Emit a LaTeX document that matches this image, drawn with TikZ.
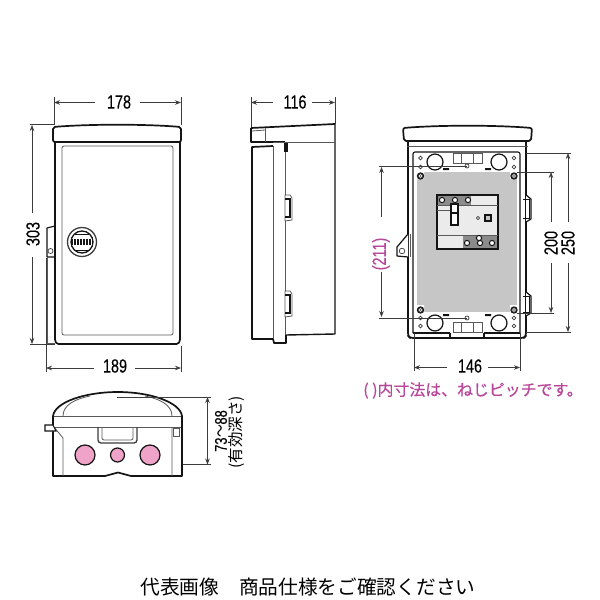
\documentclass[tikz,border=0pt]{standalone}
\usepackage{fontspec}
\setmainfont[FakeBold=0.25]{Liberation Sans}
\newfontfamily\cjk{Noto Sans CJK JP}
\newfontfamily\cjkm[FakeBold=0.4]{Noto Sans CJK JP}
\usetikzlibrary{arrows.meta}
\definecolor{inkc}{HTML}{141414}
\definecolor{dimc}{HTML}{3C3C3C}
\definecolor{pinkc}{HTML}{EFA3C8}
\definecolor{magc}{HTML}{B8469A}
\definecolor{plate}{HTML}{C6C6C6}
\tikzset{
 heavy/.style={draw=inkc,line width=1.7pt,line join=round},
 thin line/.style={draw=dimc!85,line width=.8pt},
 mid/.style={draw=inkc,line width=1.1pt},
 dimend/.style={draw=dimc,line width=.7pt,-{Stealth[length=6pt,width=4.5pt]}},
 extline/.style={draw=dimc,line width=.7pt},
 dimtext/.style={inner sep=0pt,text=black,font=\fontsize{19}{19}\selectfont},
 hole/.style={draw=dimc,line width=.7pt,fill=white},
 screw/.style={draw=inkc,line width=.9pt,fill=dimc},
 term/.style={draw=inkc,line width=1pt,fill=white},
 knock/.style={draw=inkc,line width=1.2pt,fill=pinkc},
}
\newcommand{\dimlab}[1]{\scalebox{.76}[1]{#1}}
\begin{document}
\begin{tikzpicture}[x=1pt,y=-1pt]
\useasboundingbox (0,0) rectangle (600,600);
\fill[white] (0,0) rectangle (600,600);
% ---------- front view
\draw[heavy,rounded corners=1.5pt] (55,142) -- (55,341) -- (57,344) -- (178,344) -- (180,341) -- (180,142);
\draw[heavy,rounded corners=2pt] (53,142) -- (53,127) .. controls (90,124) and (145,124) .. (181,127) -- (181,142) -- cycle;
\draw[thin line,rounded corners=2pt] (62,146) rectangle (173,335);
\draw[heavy,line width=1.2pt] (55,226) -- (47,228) -- (47,257) -- (55,257);
\draw[thin line] (47,257) -- (47,343) -- (55,343);
\draw[hole] (50.5,251) circle (2.5);
\draw[draw=dimc,line width=1.3pt,fill=white] (82,242) circle (14.5);
\draw[draw=inkc,line width=1.3pt,fill=white] (82,242) circle (11);
\fill[inkc] (71,239) rectangle (93,245);
\draw[inkc,line width=.6pt] (75,234) -- (89,234) (75,250) -- (89,250);
\foreach \i in {0,...,6}{\draw[white,line width=.5pt] (73+\i*3,239) -- (73+\i*3,245);}
% front dims
\draw[extline] (54,97) -- (54,125) (181,97) -- (181,125) (30,124.500) -- (54,124.500) (30,344) -- (55,344) (46,258) -- (46,372) (181,346) -- (181,372);
\node[dimtext] (d178) at (119,102) {\dimlab{178}};
\coordinate (a178l) at (54,102.500); \coordinate (a178r) at (181,102.500);
\draw[dimend] (95,102.500) -- (a178l);
\draw[dimend] (140,102.500) -- (a178r);
\node[dimtext,rotate=90] (d303) at (33,234) {\dimlab{303}};
\coordinate (a303t) at (32,125); \coordinate (a303b) at (32,344);
\draw[dimend] (32,213) -- (a303t);
\draw[dimend] (32,257) -- (a303b);
\node[dimtext] (d189) at (115,366) {\dimlab{189}};
\coordinate (a189l) at (46,368); \coordinate (a189r) at (181,368);
\draw[dimend] (94,368) -- (a189l);
\draw[dimend] (135,368) -- (a189r);
% ---------- side view
\draw[heavy] (273,146) -- (252,147) -- (252,339) -- (273,339);
\draw[thin line] (273,146) -- (273,339);
\draw[heavy] (273,142) -- (285,142);
\draw[thin line] (285,142) -- (285,343);
\draw[heavy] (273,339) -- (274,343) -- (286,343) -- (286,335);
\fill[inkc] (284,142) rectangle (288,152);
\draw[heavy,line width=1.4pt] (286,335) -- (335,334) -- (335,124);
\draw[heavy] (251,128) -- (335,124);
\draw[heavy] (251,128) -- (251,142) -- (273,142);
\draw[thin line] (273,142) -- (335,142);
\draw[thin line] (265,128) -- (265,142);
\draw[thin line] (252,131) -- (265,130);
\foreach \yy in {195,291}{
 \draw[thin line,fill=white] (285,\yy) -- (290,\yy) -- (292,\yy+3) -- (292,\yy+25) -- (285,\yy+26) -- cycle;
 \draw[mid] (285,\yy+4) -- (290,\yy+4) -- (290,\yy+22) -- (285,\yy+22);
}
\draw[extline] (251,97) -- (251,127) (335,97) -- (335,124);
\node[dimtext] (d116) at (295,102) {\dimlab{116}};
\coordinate (a116l) at (251,102.500); \coordinate (a116r) at (335,102.500);
\draw[dimend] (273,102.500) -- (a116l);
\draw[dimend] (312,102.500) -- (a116r);
% ---------- rear view
\draw[heavy,rounded corners=3pt] (408,141) -- (408,336) -- (410,338) -- (524,338) -- (526,336) -- (526,141);
\draw[heavy,rounded corners=2pt] (404,141) -- (403,128) .. controls (440,125) and (495,125) .. (532,128) -- (531,141) -- cycle;
\draw[thin line] (407,146) -- (528,146);
\draw[mid,rounded corners=2pt] (413,333) -- (413,152) -- (520,152) -- (520,333);
\draw[mid] (413,333) -- (450,333) (484,333) -- (520,333);
\draw[heavy,line width=1.3pt] (450,333) -- (450,338) (484,333) -- (484,338);
\fill[plate] (417,172) rectangle (517,312);
\fill[white] (417,172) rectangle (424,179) (510,172) rectangle (517,179) (417,305) rectangle (424,312) (510,305) rectangle (517,312);
\draw[thin line,fill=white] (453,153) rectangle (482,163) (453,322) rectangle (482,332);
\draw[thin line] (461,153) -- (461,163) (473,153) -- (473,163) (461,322) -- (461,332) (473,322) -- (473,332);
\foreach \kx in {435,499}{\foreach \ky in {162,323}{\draw[draw=inkc,line width=1.2pt,fill=white] (\kx,\ky) circle (8);}}
\foreach \hx in {420.5,514}{
 \foreach \hy in {158,167,318,326}{\draw[hole] (\hx,\hy) circle (1.8);}
 \foreach \hy in {176,310}{\draw[screw] (\hx,\hy) circle (3.2); \draw[draw=white,line width=.4pt] (\hx,\hy) circle (1.5);}
}
\draw[hole] (467,166) circle (2); \draw[hole] (467,318) circle (2);
\fill[inkc] (443,168) rectangle (449,170) (485,168) rectangle (491,170) (443,314) rectangle (449,316) (485,314) rectangle (491,316);
% breaker
\draw[draw=inkc,line width=1.6pt,fill=plate!35!white] (437,195) rectangle (498,249);
\fill[plate!70!black] (438,196) rectangle (471,205);
\fill[plate!70!black] (463,236) rectangle (497,248);
\draw[thin line] (437,205) -- (498,205) (437,210) -- (451,210) (437,235) -- (498,235);
\foreach \tx in {442,455,468}{\draw[term] (\tx,200) circle (2.6);}
\foreach \tx in {467,480,492}{\draw[term] (\tx,243) circle (2.6);}
\draw[term] (479,238) circle (2.6);
\fill[white] (451,205) rectangle (458,225);
\draw[draw=inkc,line width=1.3pt] (451,204) rectangle (458,225) (451,213) -- (458,213);
\draw[hole] (478,218) circle (1.7);
\draw[draw=inkc,line width=1.1pt,fill=plate] (485,215) rectangle (491,221);
% tabs
\draw[heavy,line width=1.2pt,fill=white] (408,234) -- (397,247) -- (397,256) -- (408,257);
\draw[hole] (402,251) circle (2.8);
\draw[thin line] (410,234) -- (410,257);
\foreach \yy/\hh in {195/27,292/24}{
 \draw[heavy,line width=1.2pt,fill=white] (526,\yy) -- (531,\yy+4) -- (531,\yy+\hh-3) -- (526,\yy+\hh);
 \draw[mid,line width=.8pt] (523,\yy+4) -- (529,\yy+4) -- (529,\yy+\hh-4) -- (523,\yy+\hh-4);
}
% rear dims
\draw[extline] (379,166) -- (467,166) (379,318) -- (467,318) (517,172) -- (554,172) (517,313) -- (554,313) (526,153) -- (571,153) (526,332) -- (571,332) (414,333) -- (414,371) (520,333) -- (520,371);
\node[inner sep=0pt,text=magc,rotate=90,font=\fontsize{19}{19}\selectfont] (d211) at (381,254) {\dimlab{(211)}};
\coordinate (a211t) at (381.500,167); \coordinate (a211b) at (381.500,317);
\draw[dimend] (381.500,217) -- (a211t);
\draw[dimend] (381.500,272) -- (a211b);
\node[dimtext,rotate=90] (d200) at (551,243) {\dimlab{200}};
\coordinate (a200t) at (551,172); \coordinate (a200b) at (551,313);
\draw[dimend] (551,222) -- (a200t);
\draw[dimend] (551,263) -- (a200b);
\node[dimtext,rotate=90] (d250) at (568,243) {\dimlab{250}};
\coordinate (a250t) at (568,153); \coordinate (a250b) at (568,332);
\draw[dimend] (568,222) -- (a250t);
\draw[dimend] (568,263) -- (a250b);
\node[dimtext] (d146) at (470,366) {\dimlab{146}};
\coordinate (a146l) at (414,367.500); \coordinate (a146r) at (520,367.500);
\draw[dimend] (447,367.500) -- (a146l);
\draw[dimend] (488,367.500) -- (a146r);
\node[inner sep=0pt,text=magc,font=\cjkm\fontsize{15.900}{16}\selectfont] (note) at (473,390.500) {( )内寸法は、ねじピッチです。};
% ---------- bottom view
\draw[heavy] (53,476) -- (53,416) .. controls (55,402) and (85,392) .. (118,392) .. controls (150,392) and (180,402) .. (182,416) -- (182,476) -- (131,476) -- (118,472.500) -- (105,476) -- cycle;
\draw[thin line] (54,416) -- (181,416) (54,427) -- (181,427);
\draw[thin line] (63,416) .. controls (63,405) and (75,399) .. (90,396);
\draw[thin line] (172,416) .. controls (172,405) and (160,399) .. (145,396);
\draw[thin line] (54,427) -- (63,438) -- (63,476) (172,427) -- (172,476);
\draw[mid,fill=white] (45,425) -- (53,425) -- (56,431) -- (45,431) -- cycle;
\draw[thin line] (173,428) rectangle (179,436);
\draw[draw=dimc,line width=1.3pt,rounded corners=3pt] (98,427) -- (98,443) -- (137,443) -- (137,427);
\draw[thin line,rounded corners=2pt] (102,427) -- (102,440) -- (133,440) -- (133,427);
\draw[knock] (85,455) circle (10);
\draw[knock] (117.500,455) circle (7);
\draw[knock] (150,455) circle (10);
\draw[extline] (117,397) -- (211,397) (183,464.500) -- (211,464.500);
\coordinate (a73t) at (207.500,397); \coordinate (a73b) at (207.500,464.500);
\draw[extline,{Stealth[length=6pt,width=4.5pt]}-{Stealth[length=6pt,width=4.5pt]}] (a73t) -- (a73b);
\node[inner sep=0pt,rotate=90,font=\fontsize{17}{17}\selectfont] (d73) at (221,431) {\dimlab{73{\cjk ～}88}};
\node[inner sep=0pt,rotate=90,font=\cjk\fontsize{15.500}{15.500}\selectfont] (d73b) at (237,432) {(有効深さ)};
% ---------- caption
\node[inner sep=0pt,font=\cjk\fontsize{19.700}{20}\selectfont] (cap) at (308,587) {代表画像　商品仕様をご確認ください};
\end{tikzpicture}
\end{document}
